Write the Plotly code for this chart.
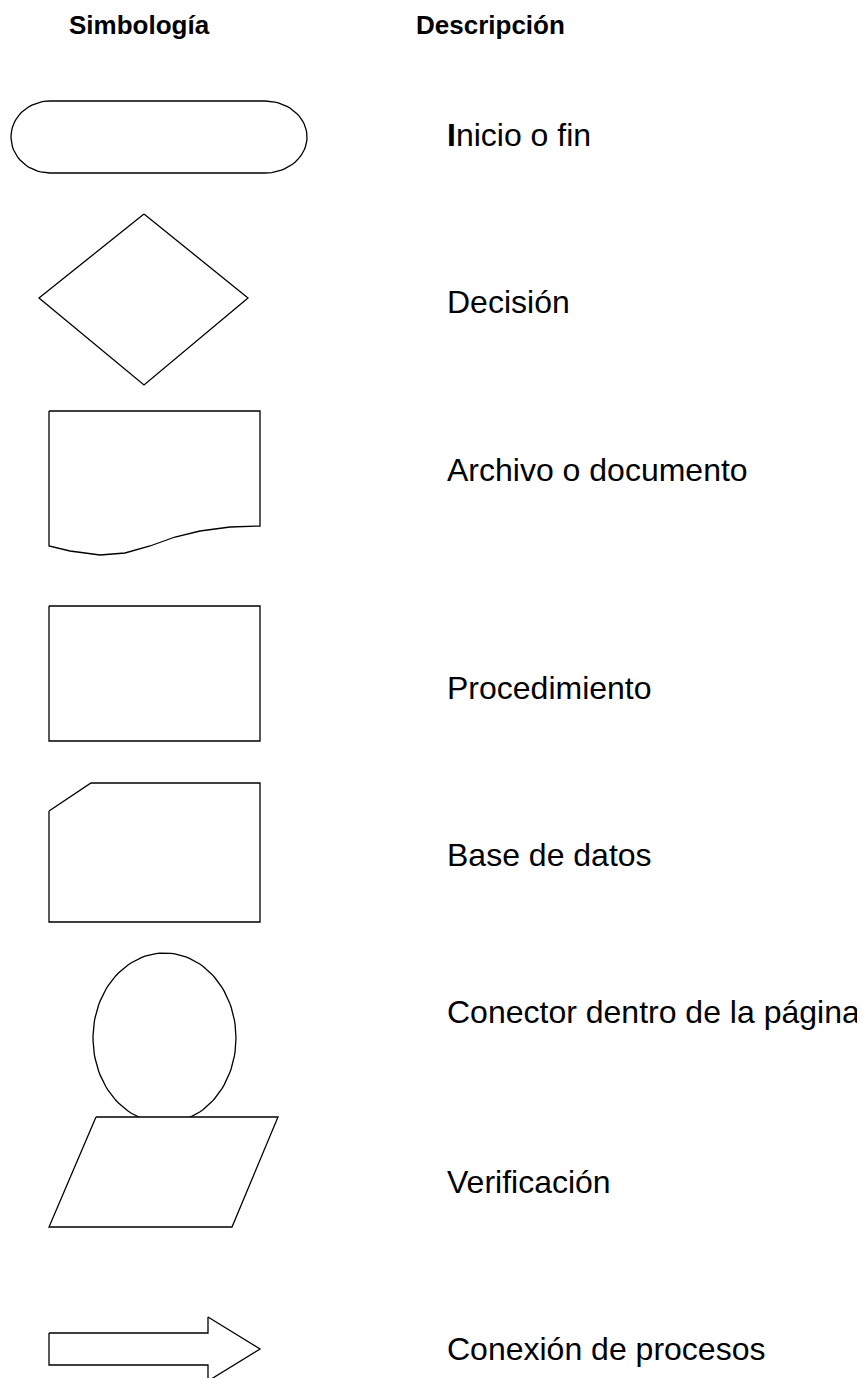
import plotly.graph_objects as go
import numpy as np

# ---- data: symbol outlines (pixel space of the legend sheet) ----
headers = ["Simbología", "Descripción"]
header_x = [139, 490]
header_y = [25, 25]

descriptions = ["<b>I</b>nicio o fin", "Decisión", "Archivo o documento", "Procedimiento",
                "Base de datos", "Conector dentro de la página", "Verificación",
                "Conexión de procesos"]
desc_y = [135, 302, 470, 688, 855, 1012, 1182, 1349]
desc_x = 445

# terminal (stadium): straight part and end radii
term_x = [50, 265]
term_y = [101, 173]
term_rx = [39, 42]

diamond_x = [144, 248, 144, 39, 144]
diamond_y = [214, 298, 385, 298, 214]

doc_x = [49, 49, 70, 100, 125, 150, 175, 200, 215, 230, 260, 260, 49]
doc_y = [411, 546, 551, 555, 553, 546, 537, 531, 529, 527, 526, 411, 411]

proc_x = [49, 260, 260, 49, 49]
proc_y = [606, 606, 741, 741, 606]

db_x = [49, 91, 260, 260, 49, 49]
db_y = [811, 783, 783, 922, 922, 811]

conn_center = [164.5, 1038]
conn_radii = [71.5, 85]

para_x = [96, 278, 232, 49, 96]
para_y = [1117, 1117, 1227, 1227, 1117]

arrow_x = [49, 208, 208, 260, 208, 208, 49, 49]
arrow_y = [1333, 1333, 1317, 1349, 1381, 1365, 1365, 1333]

fig = go.Figure()

def outline(xs, ys):
    fig.add_trace(go.Scatter(x=xs, y=ys, mode="lines", fill="toself",
                             fillcolor="white", line=dict(color="black", width=1.3),
                             hoverinfo="skip", showlegend=False))

# terminal
cy = (term_y[0] + term_y[1]) / 2
ry = (term_y[1] - term_y[0]) / 2
t_right = np.linspace(-np.pi / 2, np.pi / 2, 40)
t_left = np.linspace(np.pi / 2, 3 * np.pi / 2, 40)
right_x = term_x[1] + term_rx[1] * np.cos(t_right)
right_y = cy + ry * np.sin(t_right)
left_x = term_x[0] + term_rx[0] * np.cos(t_left)
left_y = cy + ry * np.sin(t_left)
outline(list(right_x) + list(left_x) + [right_x[0]],
        list(right_y) + list(left_y) + [right_y[0]])

outline(diamond_x, diamond_y)
outline(doc_x, doc_y)
outline(proc_x, proc_y)
outline(db_x, db_y)

tt = np.linspace(0, 2 * np.pi, 120)
outline(list(conn_center[0] + conn_radii[0] * np.cos(tt)),
        list(conn_center[1] + conn_radii[1] * np.sin(tt)))
outline(para_x, para_y)
outline(arrow_x, arrow_y)

for h, hx, hy in zip(headers, header_x, header_y):
    fig.add_annotation(x=hx, y=hy, text="<b>" + h + "</b>", showarrow=False,
                       xanchor="center", yanchor="middle",
                       font=dict(family="Liberation Sans, Arial", size=26, color="black"))

for d, dy in zip(descriptions, desc_y):
    fig.add_annotation(x=desc_x, y=dy, text=d, showarrow=False,
                       xanchor="left", yanchor="middle",
                       font=dict(family="Liberation Sans, Arial", size=32, color="black"))

# page body has an 8px margin; figure fills the rest of the window
fig.update_layout(width=857, height=1370, margin=dict(l=0, r=0, t=0, b=0),
                  paper_bgcolor="white", plot_bgcolor="white",
                  xaxis=dict(range=[8, 865], visible=False, fixedrange=True),
                  yaxis=dict(range=[1378, 8], visible=False, fixedrange=True))

fig.write_html("out.html")
